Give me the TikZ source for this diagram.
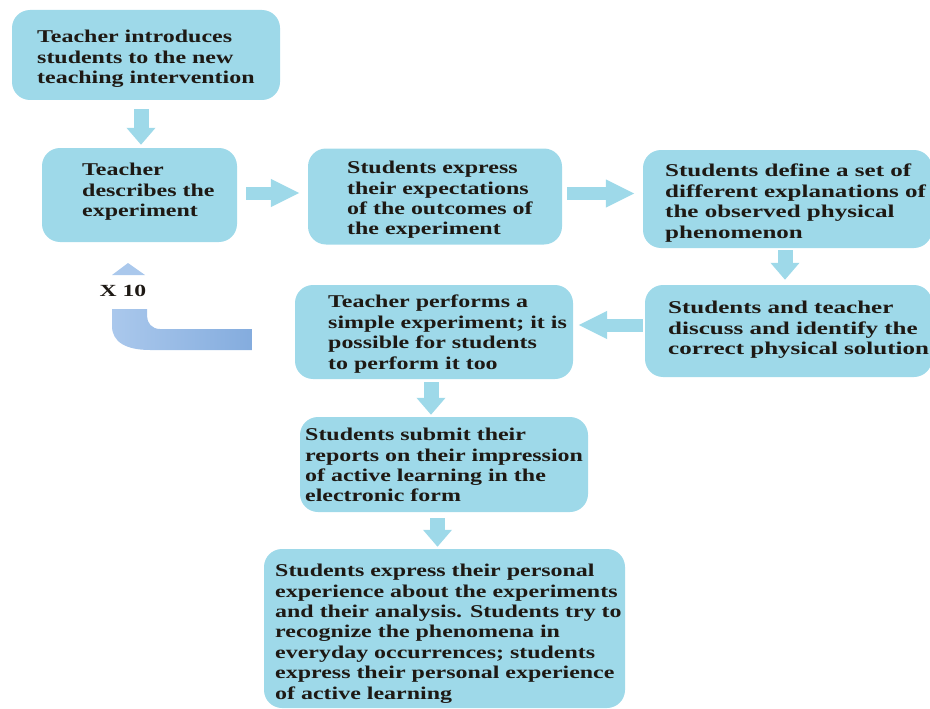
\documentclass[tikz,border=0pt]{standalone}
\usepackage{fontspec}
\newfontfamily\boxfont{Liberation Serif}[FakeStretch=1.33]
\newfontfamily\wideboxfont{Liberation Serif}[FakeStretch=1.39]
\usetikzlibrary{arrows.meta}
\definecolor{boxc}{RGB}{158,217,233}
\definecolor{textc}{RGB}{30,25,20}
\definecolor{uturnA}{RGB}{170,200,236}
\definecolor{uturnB}{RGB}{132,172,222}
\begin{document}
\begin{tikzpicture}[x=1pt,y=-1pt,
  box/.style={fill=boxc, draw=none, rounded corners=18pt, inner sep=0pt},
  txt/.style={anchor=north west, inner sep=0pt, align=left, text=textc,
    font=\boxfont\bfseries\fontsize{18}{20.4}\selectfont},
  widetxt/.style={txt, font=\wideboxfont\bfseries\fontsize{18}{20.4}\selectfont},
  vflow/.style={draw=boxc, line width=15pt, -{Triangle[width=28pt,length=17pt]}},
  hflow/.style={draw=boxc, line width=13pt, -{Triangle[width=26pt,length=29pt]}}]
\useasboundingbox (0,0) rectangle (930,709);
% boxes
\node[box, minimum width=268pt, minimum height=90pt] (A) at (146,55) {};
\node[box, minimum width=195pt, minimum height=94pt] (B) at (139.5,195) {};
\node[box, minimum width=254pt, minimum height=96pt] (C) at (435,196.5) {};
\node[box, minimum width=289pt, minimum height=98pt] (D) at (787.5,199) {};
\node[box, minimum width=287pt, minimum height=92pt] (E) at (788.5,331) {};
\node[box, minimum width=278pt, minimum height=94pt] (F) at (434,332) {};
\node[box, minimum width=288pt, minimum height=95pt] (G) at (444,464.5) {};
\node[box, minimum width=361pt, minimum height=159pt] (H) at (444.5,628.5) {};
% texts
\node[txt] (At) at (37,30) {Teacher introduces\\students to the new\\teaching intervention};
\node[txt] (Bt) at (82,163) {Teacher\\describes the\\experiment};
\node[txt] (Ct) at (347,161) {Students express\\their expectations\\of the outcomes of\\the experiment};
\node[widetxt] (Dt) at (665,164) {Students define a set of\\different explanations of\\the observed physical\\phenomenon};
\node[widetxt] (Et) at (668,301) {Students and teacher\\discuss and identify the\\correct physical solution};
\node[txt] (Ft) at (328,295) {Teacher performs a\\simple experiment; it is\\possible for students\\to perform it too};
\node[txt] (Gt) at (305,428) {Students submit their\\reports on their impression\\of active learning in the\\electronic form};
\node[txt] (Ht) at (275,564) {Students express their personal\\experience about the experiments\\and their analysis. Students try to\\recognize the phenomena in\\everyday occurrences; students\\express their personal experience\\of active learning};
% flow arrows
\draw[vflow, shorten <=9pt, shorten >=3pt] ([xshift=-5pt]A.south) -- ([xshift=-5pt]A.south |- B.north);
\draw[hflow, shorten <=9pt, shorten >=8pt] ([yshift=2pt]B.east) -- ([yshift=2pt]B.east -| C.west);
\draw[hflow, shorten <=5pt, shorten >=8pt] ([yshift=3pt]C.east) -- ([yshift=3pt]C.east -| D.west);
\draw[vflow, shorten <=2pt, shorten >=5pt] ([xshift=-2.5pt]D.south) -- ([xshift=-2.5pt]D.south |- E.north);
\draw[hflow, shorten <=2pt, shorten >=5pt] ([yshift=6pt]E.west) -- ([yshift=6pt]E.west -| F.east);
\draw[vflow, shorten <=3pt, shorten >=2pt] ([xshift=-3pt]F.south) -- ([xshift=-3pt]F.south |- G.north);
\draw[vflow, shorten <=6pt, shorten >=2pt] ([xshift=-6.5pt]G.south) -- ([xshift=-6.5pt]G.south |- H.north);
% repeat (U-turn) arrow
\coordinate (U1) at (252,329);
\coordinate (U2) at (252,350);
\coordinate (Utop) at (112,309);
\shade[left color=uturnA, right color=uturnB]
  (U1) -- (160,329) .. controls (152,329) and (147,323) .. (147,316)
  -- (147,309) -- (Utop) -- (112,326)
  .. controls (112,342) and (126,350) .. (150,350) -- (U2) -- cycle;
\fill[uturnA] (112,275) -- (128,263) -- (145,275) -- cycle;
\node[inner sep=0pt, text=textc, font=\wideboxfont\bfseries\fontsize{17}{18}\selectfont] (X10) at (123,291) {X 10};
\end{tikzpicture}
\end{document}
